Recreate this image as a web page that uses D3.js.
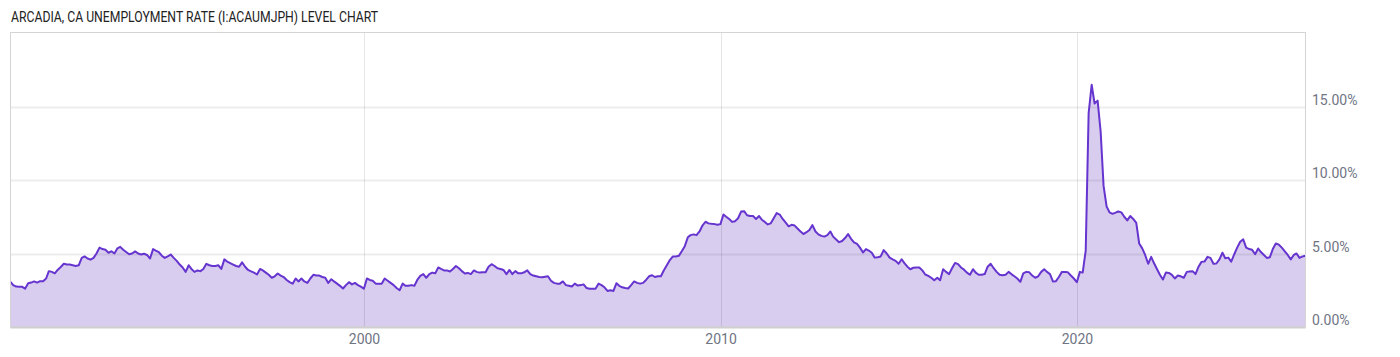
<!DOCTYPE html>
<html>
<head>
<meta charset="utf-8">
<script src="https://cdn.jsdelivr.net/npm/d3@7"></script>
<style>
  html, body { margin: 0; padding: 0; background: #fff; }
  svg { display: block; font-family: Roboto, "Noto Sans", sans-serif; }
</style>
</head>
<body>
<svg id="chart" width="1400" height="357"></svg>
<script>
// monthly unemployment rate (%), one array per decade, starting Jan 1990
const startYear = 1990;
const rates1990s = [
  3.07, 2.85, 2.75, 2.73, 2.73, 2.61, 2.98, 3.02, 3.1, 3.02, 3.12, 3.12,
  3.3, 3.8, 3.75, 3.65, 3.9, 4.08, 4.3, 4.25, 4.25, 4.2, 4.15, 4.2,
  4.7, 4.8, 4.66, 4.58, 4.7, 5.0, 5.4, 5.3, 5.25, 5.05, 5.15, 5.0,
  5.35, 5.45, 5.25, 5.1, 4.95, 5.0, 5.14, 5.0, 4.93, 4.98, 4.9, 4.66,
  5.3, 5.2, 5.1, 4.85, 4.7, 4.8, 4.93, 4.7, 4.5, 4.25, 4.05, 3.75,
  4.2, 3.95, 3.75, 3.85, 3.8, 3.95, 4.3, 4.2, 4.15, 4.15, 4.2, 3.95,
  4.6, 4.45, 4.35, 4.25, 4.15, 4.1, 4.4, 4.1, 3.88, 3.78, 3.7, 3.57,
  3.95, 3.85, 3.7, 3.55, 3.35, 3.45, 3.64, 3.5, 3.4, 3.2, 3.05, 2.95,
  3.3, 3.1, 3.3, 3.1, 3.0, 3.3, 3.55, 3.5, 3.5, 3.4, 3.35, 3.0,
  3.25, 3.1, 2.95, 2.8, 2.62, 2.85, 3.05, 2.9, 3.0, 2.85, 2.75, 2.6
];
const rates2000s = [
  3.3, 3.2, 3.15, 2.95, 2.95, 2.95, 3.3, 3.15, 3.0, 2.85, 2.65, 2.5,
  2.95, 2.8, 2.8, 2.85, 2.8, 3.2, 3.48, 3.6, 3.35, 3.6, 3.7, 3.65,
  4.05, 3.95, 3.85, 3.85, 3.78, 3.95, 4.15, 4.0, 3.8, 3.64, 3.68, 3.6,
  3.85, 3.75, 3.7, 3.72, 3.72, 4.1, 4.27, 4.15, 4.0, 3.95, 3.88, 3.6,
  3.88, 3.6, 3.8, 3.65, 3.65, 3.72, 3.86, 3.6, 3.5, 3.45, 3.4, 3.38,
  3.42, 3.45, 3.15, 3.0, 2.95, 2.95, 3.1, 2.85, 2.8, 2.75, 2.95, 2.82,
  2.85, 2.9, 2.65, 2.6, 2.6, 2.6, 2.95, 2.85, 2.7, 2.45, 2.5, 2.45,
  2.98, 2.8, 2.7, 2.65, 2.62, 2.85, 3.1, 3.0, 2.95, 3.0, 3.2, 3.45,
  3.52, 3.4, 3.45, 3.45, 3.86, 4.2, 4.55, 4.8, 4.8, 4.84, 5.15, 5.5,
  6.1, 6.25, 6.3, 6.25, 6.5, 6.9, 7.16, 7.05, 7.02, 7.0, 6.95, 7.0
];
const rates2010s = [
  7.65, 7.5, 7.35, 7.15, 7.2, 7.4, 7.85, 7.88, 7.6, 7.55, 7.55, 7.35,
  7.55, 7.3, 7.15, 6.98, 7.05, 7.4, 7.75, 7.65, 7.35, 7.1, 6.85, 6.95,
  6.9, 6.7, 6.5, 6.32, 6.45, 6.6, 6.93, 6.5, 6.3, 6.2, 6.15, 6.25,
  6.5, 6.15, 5.95, 5.77, 5.85, 6.05, 6.32, 6.0, 5.75, 5.65, 5.4, 5.07,
  5.3, 5.2, 5.05, 4.72, 4.75, 4.8, 5.23, 5.0, 4.72, 4.6, 4.5, 4.3,
  4.61, 4.35, 4.1, 3.93, 4.03, 4.05, 4.05, 3.85, 3.57, 3.48, 3.35, 3.18,
  3.35, 3.18, 3.93, 3.75, 3.6, 4.0, 4.36, 4.28, 4.05, 3.9, 3.7, 3.55,
  3.93, 3.7, 3.55, 3.55, 3.6, 4.1, 4.3, 4.0, 3.75, 3.55, 3.52, 3.55,
  3.75, 3.6, 3.45, 3.3, 3.07, 3.65, 3.75, 3.72, 3.5, 3.35, 3.45, 3.75,
  3.93, 3.75, 3.6, 3.1, 3.12, 3.4, 3.75, 3.75, 3.72, 3.5, 3.3, 3.05
];
const rates2020s = [
  3.75, 3.7, 5.2, 14.55, 16.48, 15.2, 15.4, 13.3, 9.6, 8.2, 7.8, 7.7,
  7.78, 7.86, 7.8, 7.5, 7.25, 7.55, 7.35, 7.08, 5.68, 5.35, 4.9, 4.3,
  4.77, 4.35, 3.95, 3.55, 3.23, 3.7, 3.68, 3.55, 3.3, 3.5, 3.45, 3.35,
  3.75, 3.78, 3.8, 3.6, 4.1, 4.43, 4.45, 4.77, 4.7, 4.3, 4.32, 4.6,
  5.05, 4.68, 4.72, 4.45, 4.95, 5.4, 5.8, 5.96, 5.4, 5.3, 5.25, 4.95,
  5.34, 5.1, 4.9, 4.7, 4.75, 5.3, 5.68, 5.6, 5.4, 5.15, 4.9, 4.6,
  4.9, 5.0, 4.7, 4.8, 4.85
];
const yTicks = [0, 5, 10, 15];
const xTickYears = [2000, 2010, 2020];
const title = 'ARCADIA, CA UNEMPLOYMENT RATE (I:ACAUMJPH) LEVEL CHART';

const rates = [].concat(rates1990s, rates2000s, rates2010s, rates2020s);
// month-end dates
const data = rates.map((v, i) => ({ date: new Date(startYear, i + 1, 0), value: v }));

const plot = { left: 10.5, right: 1305.5, top: 33, bottom: 327 };

const svg = d3.select('#chart');

const x = d3.scaleTime()
  .domain(d3.extent(data, d => d.date))
  .range([plot.left, plot.right]);

const y = d3.scaleLinear()
  .domain([0, 20])
  .range([plot.bottom, plot.top]);

// title
svg.append('text')
  .attr('x', 11)
  .attr('y', 21.5)
  .attr('font-size', 14)
  .attr('fill', '#222')
  .attr('textLength', 367)
  .attr('lengthAdjust', 'spacingAndGlyphs')
  .text(title);

// area + line
const area = d3.area()
  .x(d => x(d.date))
  .y0(plot.bottom)
  .y1(d => y(d.value));

const line = d3.line()
  .x(d => x(d.date))
  .y(d => y(d.value));

svg.append('path')
  .datum(data)
  .attr('d', area)
  .attr('fill', '#d8cdef');

// grid lines drawn over the fill, faintly
const grid = svg.append('g');
grid.selectAll('line.h')
  .data(yTicks.filter(t => t > 0))
  .enter().append('line')
  .attr('class', 'h')
  .attr('x1', plot.left)
  .attr('x2', plot.right)
  .attr('y1', d => Math.round(y(d)) + 0.5)
  .attr('y2', d => Math.round(y(d)) + 0.5)
  .attr('stroke', '#000')
  .attr('stroke-opacity', 0.07)
  .attr('stroke-width', 2);

grid.selectAll('line.v')
  .data(xTickYears)
  .enter().append('line')
  .attr('class', 'v')
  .attr('x1', d => Math.round(x(new Date(d, 0, 1))) + 0.5)
  .attr('x2', d => Math.round(x(new Date(d, 0, 1))) + 0.5)
  .attr('y1', plot.top)
  .attr('y2', plot.bottom)
  .attr('stroke', '#000')
  .attr('stroke-opacity', 0.1)
  .attr('stroke-width', 1);

svg.append('path')
  .datum(data)
  .attr('d', line)
  .attr('fill', 'none')
  .attr('stroke', '#6634cf')
  .attr('stroke-width', 2)
  .attr('stroke-linejoin', 'round');

// frame
svg.append('rect')
  .attr('x', plot.left)
  .attr('y', plot.top - 0.5)
  .attr('width', plot.right - plot.left)
  .attr('height', plot.bottom - plot.top + 0.5)
  .attr('fill', 'none')
  .attr('stroke', '#d4d4d4')
  .attr('stroke-width', 1);

svg.append('line')
  .attr('x1', plot.left)
  .attr('x2', plot.right)
  .attr('y1', plot.bottom + 0.5)
  .attr('y2', plot.bottom + 0.5)
  .attr('stroke', '#cfcfcf')
  .attr('stroke-width', 2);

// y axis labels on the right
const yAxis = d3.axisRight(y)
  .tickValues(yTicks)
  .tickSize(0)
  .tickPadding(0)
  .tickFormat(d => d3.format('.2f')(d) + '%');

svg.append('g')
  .attr('transform', `translate(1312,0)`)
  .call(yAxis)
  .call(g => g.select('.domain').remove())
  .call(g => g.selectAll('text')
    .attr('dy', '-0.15em')
    .attr('font-family', 'Roboto, sans-serif')
    .attr('font-size', 14)
    .attr('fill', '#6f7583'));

// x axis labels
const xAxis = d3.axisBottom(x)
  .tickValues(xTickYears.map(yr => new Date(yr, 0, 1)))
  .tickSize(0)
  .tickPadding(0)
  .tickFormat(d3.timeFormat('%Y'));

svg.append('g')
  .attr('transform', `translate(0,${plot.bottom + 7})`)
  .call(xAxis)
  .call(g => g.select('.domain').remove())
  .call(g => g.selectAll('text')
    .attr('font-family', 'Roboto, sans-serif')
    .attr('font-size', 14)
    .attr('fill', '#6f7583'));
</script>
</body>
</html>
